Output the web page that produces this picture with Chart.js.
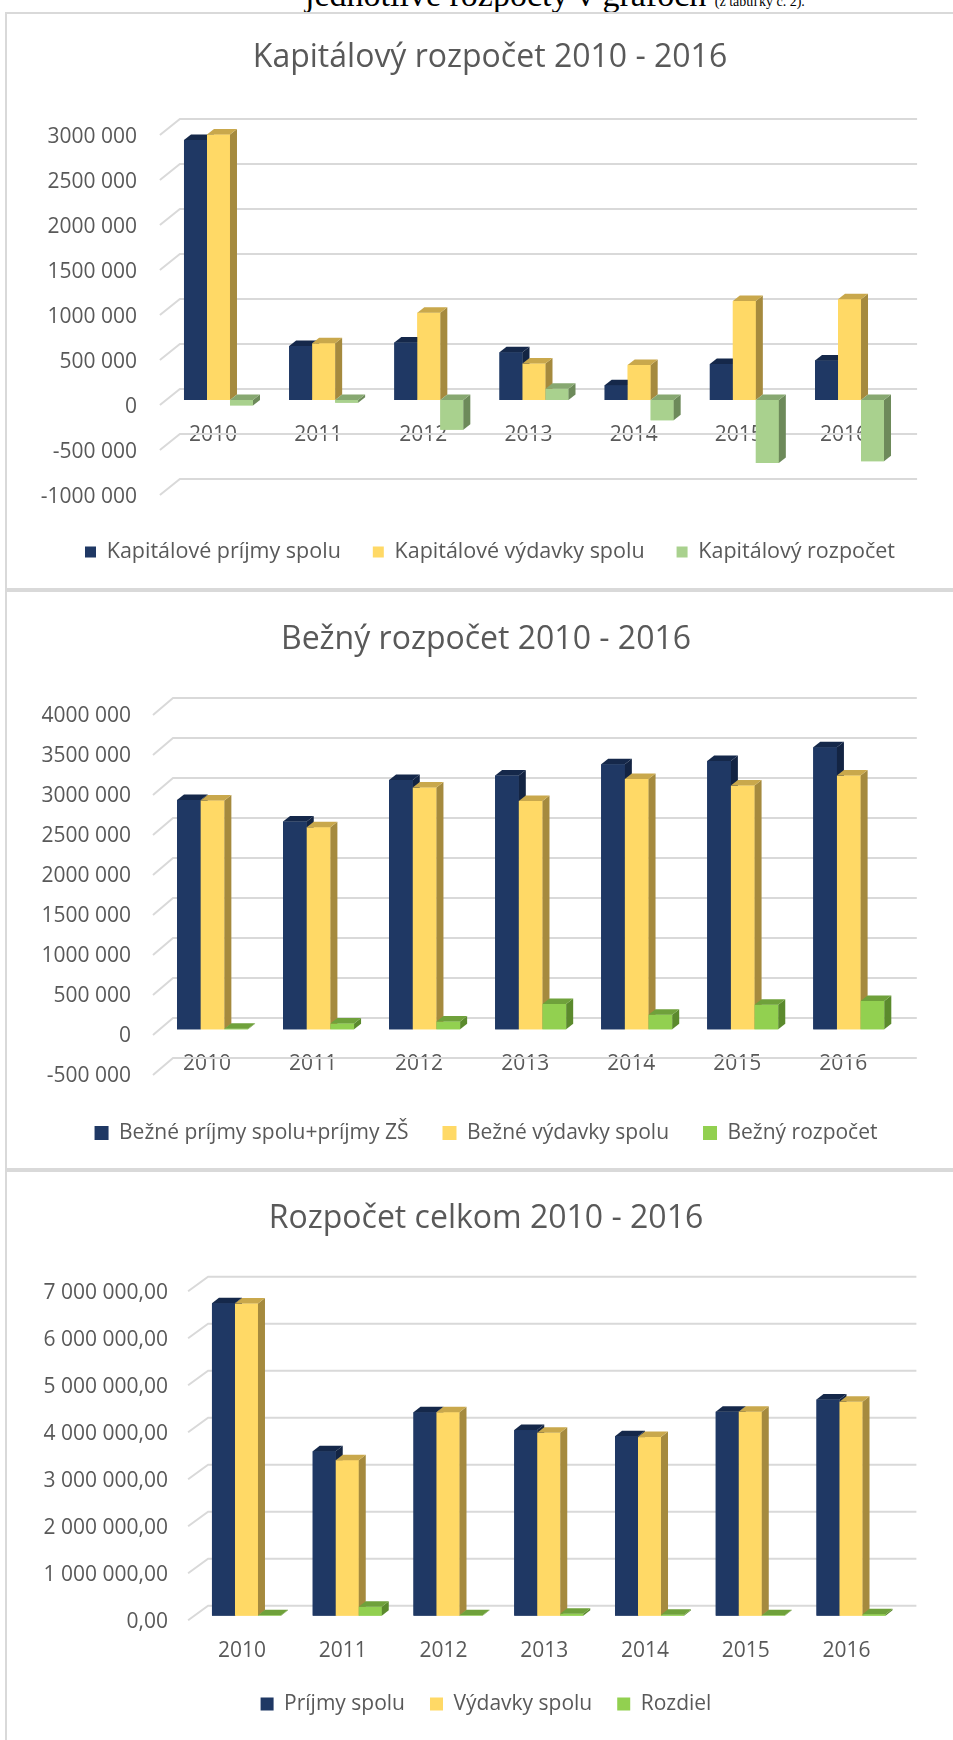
<!DOCTYPE html>
<html>
<head>
<meta charset="utf-8">
<script src="https://cdn.jsdelivr.net/npm/chart.js@4.4.1/dist/chart.umd.min.js"></script>
<style>
html, body { margin: 0; padding: 0; background: #fff; overflow: hidden; }
body { width: 953px; height: 1740px; position: relative; }
.head { position: absolute; left: 305px; top: -22px; font-family: 'Liberation Serif', serif; font-size: 34px; line-height: 34px; white-space: nowrap; color: #000; }
.head small { font-size: 14px; }
.box { position: absolute; left: 5px; width: 990px; border: 2px solid #d9d9d9; border-right: none; box-sizing: border-box; }
canvas { position: absolute; left: 0; }
</style>
</head>
<body>
<div class="head">jednotlivé rozpočty v grafoch <small>(z tabuľky č. 2).</small></div>
<div class="box" style="top:12px;height:578px"></div>
<div class="box" style="top:590px;height:580px"></div>
<div class="box" style="top:1170px;height:600px"></div>
<canvas id="kap" width="1100" height="574" style="top:14px"></canvas>
<canvas id="bez" width="1100" height="576" style="top:592px"></canvas>
<canvas id="celk" width="1100" height="568" style="top:1172px"></canvas>
<script>
// data
const years = ['2010', '2011', '2012', '2013', '2014', '2015', '2016'];

const kapPrijmy = [2890000, 600000, 640000, 530000, 165000, 400000, 440000];
const kapVydavky = [2950000, 630000, 970000, 405000, 390000, 1100000, 1120000];
const kapRozpocet = [-60000, -30000, -330000, 125000, -225000, -700000, -680000];

const bezPrijmy = [2867000, 2596000, 3117000, 3171000, 3312000, 3354000, 3525000];
const bezVydavky = [2860000, 2525000, 3021000, 2854000, 3129000, 3046000, 3171000];
const bezRozpocet = [7000, 71000, 96000, 317000, 183000, 308000, 354000];

const celkPrijmy = [6650000, 3500000, 4330000, 3950000, 3820000, 4340000, 4600000];
const celkVydavky = [6640000, 3310000, 4330000, 3890000, 3800000, 4340000, 4550000];
const celkRozdiel = [10000, 190000, 10000, 40000, 20000, 10000, 30000];

Chart.defaults.font.family = "'Open Sans', sans-serif";
Chart.defaults.color = '#595959';

const NAVY = '#1f3864', YELLOW = '#ffd966', LGREEN = '#a9d18e', GREEN = '#92d050';

// number formats like in the sheet: "3000 000" and "7 000 000,00"
function fmtK(v) {
    const a = Math.abs(v);
    if (a < 1000) return String(v);
    return (v < 0 ? '-' : '') + Math.floor(a / 1000) + ' ' + String(a % 1000).padStart(3, '0');
}
function fmtFull(v) {
    const s = Math.round(Math.abs(v)).toString().replace(/\B(?=(\d{3})+(?!\d))/g, ' ');
    return (v < 0 ? '-' : '') + s + ',00';
}

function poly(ctx, pts) {
    ctx.beginPath();
    ctx.moveTo(pts[0][0], pts[0][1]);
    for (let i = 1; i < pts.length; i++) ctx.lineTo(pts[i][0], pts[i][1]);
    ctx.closePath();
    ctx.fill();
}

// back-wall gridlines with the little perspective floor stroke
function grid3d(g) {
    return {
        id: 'grid3d',
        beforeDatasetsDraw(chart) {
            const {ctx, chartArea: a, scales: {y}} = chart;
            ctx.save();
            ctx.strokeStyle = '#d9d9d9';
            ctx.lineWidth = 2;
            y.ticks.forEach(t => {
                const py = y.getPixelForValue(t.value);
                ctx.beginPath();
                ctx.moveTo(a.left + g.fx, py + g.fy);
                ctx.lineTo(a.left + g.bx, py + g.by);
                ctx.lineTo(a.right + g.ex, py + g.by);
                ctx.stroke();
            });
            ctx.restore();
        }
    };
}

// redraw each bar with a top and a side face, left to right
function bars3d(shades) {
    const dx = 7, dy = 5.5;
    return {
        id: 'bars3d',
        afterDatasetsDraw(chart) {
            const ctx = chart.ctx;
            const sets = chart.data.datasets;
            ctx.save();
            chart.data.labels.forEach((lab, i) => {
                sets.forEach((ds, k) => {
                    const bar = chart.getDatasetMeta(k).data[i];
                    const p = bar.getProps(['x', 'y', 'base', 'width'], true);
                    const l = p.x - p.width / 2, r = p.x + p.width / 2;
                    const top = Math.min(p.y, p.base), bot = Math.max(p.y, p.base);
                    ctx.fillStyle = ds.backgroundColor;
                    ctx.fillRect(l, top, p.width, bot - top);
                    ctx.fillStyle = shades[k].side;
                    poly(ctx, [[r, top], [r + dx, top - dy], [r + dx, bot - dy], [r, bot]]);
                    ctx.fillStyle = shades[k].top;
                    poly(ctx, [[l, top], [l + dx, top - dy], [r + dx, top - dy], [r, top]]);
                });
            });
            ctx.restore();
        }
    };
}

function makeChart(id, title, labels, series, yOpt, g) {
    const W = 1100;
    const fs = 21, lfs = g.lfs, tfs = 32;
    // title and legend are centred on g.center; a blank right axis keeps the plot edge at g.areaR
    const rp = W - 2 * g.center;
    const padW = 2 * g.center - g.areaR;
    const areaT = g.areaT - g.top, areaB = g.areaB - g.top;
    const tTop = (g.titleY - g.top) - tfs * 0.6;
    const tBot = areaT - tTop - tfs * 1.2;
    const legTitlePad = (g.legendY - g.top) - areaB - g.gap - lfs / 2 - 12;
    const legH = 12 + legTitlePad + lfs + g.gap + 10;
    const pb = g.height - areaB - legH;
    const zeroY = g.areaT + yOpt.max / (yOpt.max - yOpt.min) * (g.areaB - g.areaT);

    return new Chart(document.getElementById(id), {
        type: 'bar',
        data: {
            labels: labels,
            datasets: series.map(s => ({
                label: s.label,
                data: s.data,
                backgroundColor: s.color,
                borderWidth: 0,
                categoryPercentage: g.cat,
                barPercentage: 1
            }))
        },
        options: {
            responsive: false,
            animation: false,
            layout: { padding: { left: 0, right: rp, top: 0, bottom: pb } },
            scales: {
                x: {
                    position: { y: 0 },
                    grid: { display: false, drawTicks: false },
                    border: { display: false },
                    ticks: { padding: g.xLabY - zeroY - fs * 0.6, labelOffset: g.xOff, font: { size: fs }, color: '#595959' }
                },
                y: {
                    min: yOpt.min,
                    max: yOpt.max,
                    grid: { display: false, drawTicks: false },
                    border: { display: false },
                    ticks: { stepSize: yOpt.step, callback: yOpt.fmt, padding: g.areaL - g.yLabR, labelOffset: g.yOff, font: { size: fs }, color: '#595959' },
                    afterFit: scale => { scale.width = g.areaL; }
                },
                yPad: {
                    type: 'linear',
                    position: 'right',
                    grid: { display: false, drawTicks: false },
                    border: { display: false },
                    ticks: { display: false },
                    afterFit: scale => { scale.width = padW; }
                }
            },
            plugins: {
                title: {
                    display: true,
                    text: title,
                    color: '#595959',
                    font: { size: tfs, weight: 'normal' },
                    padding: { top: tTop, bottom: tBot }
                },
                legend: {
                    position: 'bottom',
                    title: { display: true, text: '', font: { size: 10 }, padding: { top: legTitlePad, bottom: 0 } },
                    labels: { boxWidth: g.box, boxHeight: g.box, padding: g.gap, font: { size: lfs }, color: '#595959' }
                },
                tooltip: { enabled: false }
            }
        },
        plugins: [grid3d(g.grid), bars3d(g.shades)]
    });
}

const shadesLight = [
    { top: '#15284a', side: '#132443' },
    { top: '#c9a84c', side: '#a58a3e' },
    { top: '#87a871', side: '#6d8a5a' }
];
const shadesBright = [
    { top: '#15284a', side: '#132443' },
    { top: '#c9a84c', side: '#a58a3e' },
    { top: '#6fa13b', side: '#5b8a2d' }
];

makeChart('kap', 'Kapitálový rozpočet 2010 - 2016', years, [
    { label: 'Kapitálové príjmy spolu', data: kapPrijmy, color: NAVY },
    { label: 'Kapitálové výdavky spolu', data: kapVydavky, color: YELLOW },
    { label: 'Kapitálový rozpočet', data: kapRozpocet, color: LGREEN }
], { min: -1000000, max: 3000000, step: 500000, fmt: fmtK }, {
    top: 14, height: 574, areaL: 165.9, areaR: 902.1, areaT: 130, areaB: 490,
    center: 490, titleY: 58, legendY: 552, xLabY: 435, yLabR: 137, yOff: 7, xOff: -5.5,
    cat: 0.656, gap: 32, box: 11, lfs: 21.5,
    grid: { fx: -6, bx: 14, fy: 5, by: -11, ex: 15 }, shades: shadesLight
});

makeChart('bez', 'Bežný rozpočet 2010 - 2016', years, [
    { label: 'Bežné príjmy spolu+príjmy ZŠ', data: bezPrijmy, color: NAVY },
    { label: 'Bežné výdavky spolu', data: bezVydavky, color: YELLOW },
    { label: 'Bežný rozpočet', data: bezRozpocet, color: GREEN }
], { min: -500000, max: 4000000, step: 500000, fmt: fmtK }, {
    top: 592, height: 576, areaL: 159.5, areaR: 901.8, areaT: 709.3, areaB: 1069.3,
    center: 486, titleY: 640, legendY: 1133, xLabY: 1064, yLabR: 131, yOff: 6.5, xOff: -5.5,
    cat: 0.67, gap: 34, box: 14, lfs: 21,
    grid: { fx: -6.5, bx: 13.5, fy: 5.7, by: -11.3, ex: 15 }, shades: shadesBright
});

makeChart('celk', 'Rozpočet celkom 2010 - 2016', years, [
    { label: 'Príjmy spolu', data: celkPrijmy, color: NAVY },
    { label: 'Výdavky spolu', data: celkVydavky, color: YELLOW },
    { label: 'Rozdiel', data: celkRozdiel, color: GREEN }
], { min: 0, max: 7000000, step: 1000000, fmt: fmtFull }, {
    top: 1172, height: 568, areaL: 196.1, areaR: 901.4, areaT: 1286.7, areaB: 1615.7,
    center: 486, titleY: 1219, legendY: 1704, xLabY: 1651, yLabR: 168, yOff: 6, xOff: -4.5,
    cat: 0.685, gap: 25, box: 13, lfs: 21,
    grid: { fx: -8, bx: 12, fy: 4.5, by: -10, ex: 15 }, shades: shadesBright
});
</script>
</body>
</html>
